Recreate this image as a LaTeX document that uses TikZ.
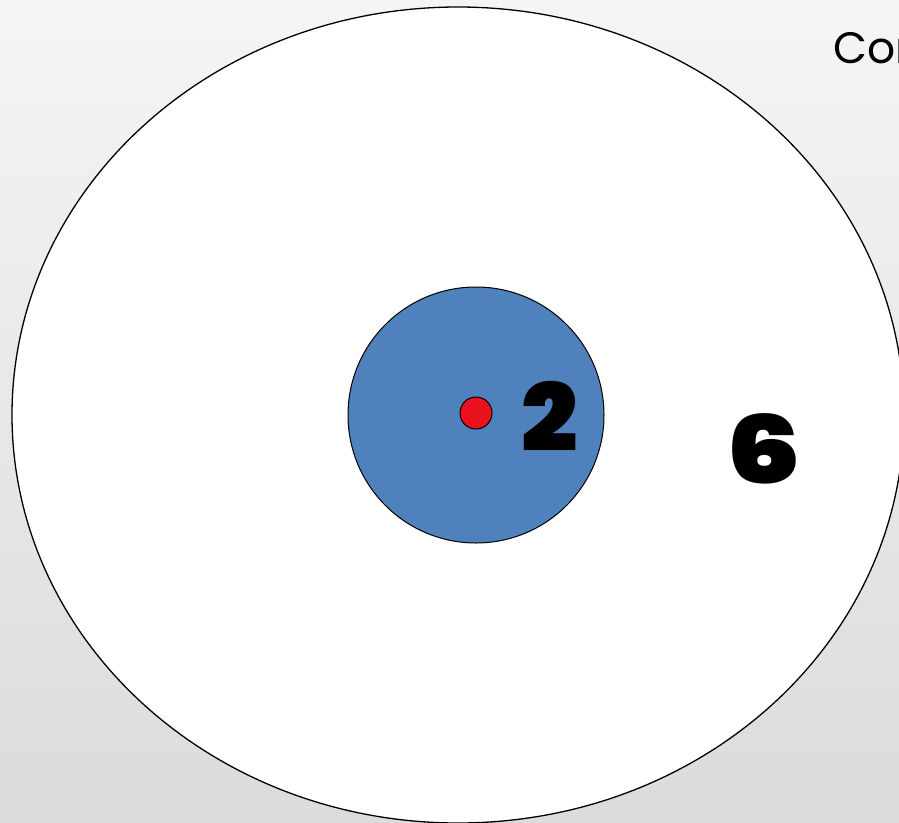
\documentclass[tikz,border=0pt]{standalone}
\usepackage{fontspec}
\setmainfont{Poppins}
\newfontfamily\heavyfont{Poppins Black}
\usepackage{tikz}
\usetikzlibrary{calc}

\definecolor{shellblue}{RGB}{79,129,189}
\definecolor{nucred}{RGB}{234,16,30}

\tikzset{
  count/.style={font=\heavyfont\fontsize{94}{94}\selectfont, inner sep=0pt}
}

\begin{document}
\begin{tikzpicture}[x=1pt,y=-1pt]

% Background
\shade[top color=black!4, bottom color=black!14] (0,0) rectangle (899,822);
\useasboundingbox (0,0) rectangle (899,822);

% Outer shell
\begin{scope}
\clip (0,0) rectangle (899,822);
\draw[fill=white, line width=1.3pt] (458,415) ellipse (446 and 408);
\end{scope}

% Inner shell
\draw[fill=shellblue, line width=1pt] (476,415) circle (128);

% Nucleus
\draw[fill=nucred, line width=1pt] (476,413) circle (16);

% Electron counts
\node[count] (inner) at (550,416) {\scalebox{1.06}[1]{2}};
\node[count] (outer) at (764,449) {\scalebox{1.26}[1]{6}};

% Title (cut off)
\begin{scope}
\clip (0,0) rectangle (899,822);
\node[anchor=base west, inner sep=0pt, font=\fontsize{44}{44}\selectfont] (title) at (833,63) {Con};
\end{scope}

\end{tikzpicture}
\end{document}
